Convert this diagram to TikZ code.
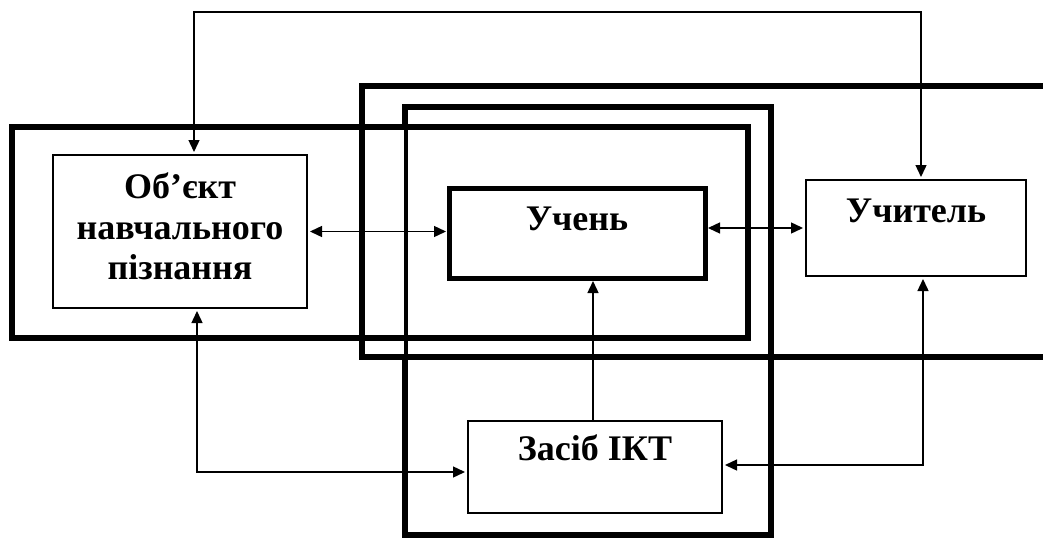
\documentclass[tikz,border=0pt]{standalone}
\usepackage{fontspec}
\setmainfont{Liberation Serif}
\usetikzlibrary{arrows.meta}
\begin{document}
\begin{tikzpicture}[x=1pt,y=-1pt,
  frame/.style={line width=6pt, line join=miter},
  box/.style={draw, rectangle, line width=1.4pt, inner sep=0pt, outer sep=0pt},
  lbl/.style={font=\fontsize{36}{40.5}\selectfont\bfseries, inner sep=0pt, align=center},
  tip/.tip={Triangle[length=12pt,width=11pt]},
  link/.style={line width=1.4pt, shorten <=3pt, shorten >=3pt},
]
\useasboundingbox (0,0) rectangle (1043,538);
% outer frames
\begin{scope}
  \clip (0,0) rectangle (1043,538);
  \draw[frame] (12,127) rectangle (748,338);
  \draw[frame] (362,85.5) rectangle (1070,357);
  \draw[frame] (405,127) -- (405,106.5) -- (771,106.5) -- (771,535) -- (405,535) -- (405,357);
  \draw[line width=3.5pt] (406,127) -- (406,357);
\end{scope}
% boxes
\node[box, minimum width=254pt, minimum height=153pt] (obj) at (180,231.5) {};
\node[box, line width=5pt, minimum width=256pt, minimum height=90pt] (student) at (577,233) {};
\node[box, minimum width=220pt, minimum height=96pt] (teacher) at (916,228) {};
\node[box, minimum width=254pt, minimum height=92pt] (ikt) at (595,467) {};
% labels
\node[lbl, anchor=north] (objt) at (180,173) {Об’єкт\\навчального\\пізнання};
\node[lbl, anchor=base] (studentt) at (577,230) {Учень};
\node[lbl, anchor=base] (teachert) at (916,222) {Учитель};
\node[lbl, anchor=base] (iktt) at (595,460) {Засіб ІКТ};
% connectors
\coordinate (topline) at (921,12);
\draw[link, tip-tip] ([xshift=14pt]obj.north) |- (topline) -| ([xshift=5pt]teacher.north);
\draw[link, tip-tip] (obj.east) -- (obj.east -| student.west);
\draw[link, tip-tip] (teacher.west -| student.east) -- (teacher.west);
\draw[link, -tip, shorten <=0pt] ([xshift=-2pt]ikt.north) -- ([xshift=-2pt]ikt.north |- student.south);
\draw[link, tip-tip] ([xshift=17pt]obj.south) |- ([yshift=-5pt]ikt.west);
\draw[link, tip-tip] ([xshift=7pt]teacher.south) |- ([yshift=2pt]ikt.east);
\end{tikzpicture}
\end{document}
